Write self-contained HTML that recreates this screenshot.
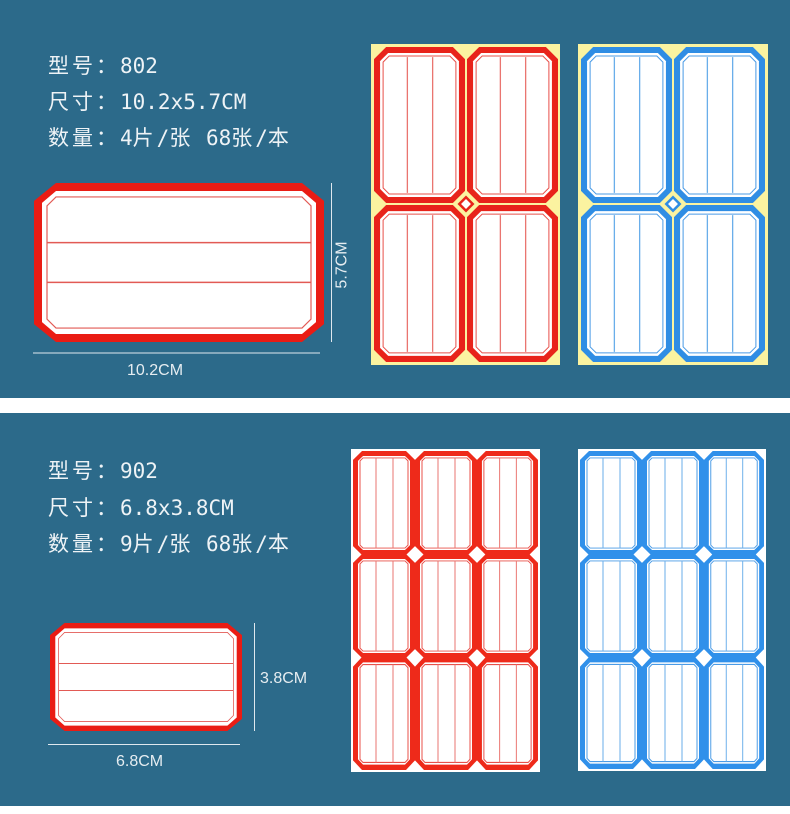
<!DOCTYPE html>
<html><head><meta charset="utf-8"><style>
body{margin:0;width:790px;height:814px;background:#fff;position:relative;overflow:hidden}
.p{position:absolute;left:0;width:790px;background:#2c6a8a}
.t{position:absolute;left:48px;font:21px "DejaVu Sans Mono","Noto Sans CJK SC",monospace;color:#eef3f6;white-space:pre;line-height:24px}
.c{font-family:"Noto Sans CJK SC",sans-serif;letter-spacing:3px}
.d{position:absolute;font:16px "Liberation Sans",sans-serif;color:#e6edf1;white-space:nowrap}
svg{position:absolute;left:0;top:0}
</style></head><body>
<div class="p" style="top:0;height:398px"></div>
<div class="p" style="top:413px;height:393px"></div>
<div class="t" style="top:53px"><span class="c">型号：</span>802</div>
<div class="t" style="top:89px"><span class="c">尺寸：</span>10.2x5.7CM</div>
<div class="t" style="top:125px"><span class="c">数量：</span>4<span class="c">片</span>/<span class="c">张</span> 68<span class="c">张</span>/<span class="c">本</span></div>
<div class="t" style="top:458px"><span class="c">型号：</span>902</div>
<div class="t" style="top:495px"><span class="c">尺寸：</span>6.8x3.8CM</div>
<div class="t" style="top:531px"><span class="c">数量：</span>9<span class="c">片</span>/<span class="c">张</span> 68<span class="c">张</span>/<span class="c">本</span></div>
<div class="d" style="left:127px;top:362px">10.2CM</div>
<div class="d" style="left:319px;top:256px;transform:rotate(-90deg);transform-origin:center">5.7CM</div>
<div class="d" style="left:260px;top:670px">3.8CM</div>
<div class="d" style="left:116px;top:753px">6.8CM</div>
<svg width="790" height="814" viewBox="0 0 790 814">
<defs>
<symbol id="vr" viewBox="0 0 90 155" preserveAspectRatio="none">
<polygon points="12,0 78,0 90,12 90,143 78,155 12,155 0,143 0,12" fill="#e8231a"/>
<polygon points="14,6 76,6 84,14 84,141 76,149 14,149 6,141 6,14" fill="#fff"/>
<polygon points="15,9 75,9 81,15 81,140 75,146 15,146 9,140 9,15" fill="none" stroke="#e8504a" stroke-width="1"/>
<line x1="33" y1="10" x2="33" y2="145" stroke="#ea7570" stroke-width="1.3"/>
<line x1="58" y1="10" x2="58" y2="145" stroke="#ea7570" stroke-width="1.3"/>
</symbol>
<symbol id="vr2" viewBox="0 0 62 105" preserveAspectRatio="none">
<polygon points="9,0 53,0 62,9 62,96 53,105 9,105 0,96 0,9" fill="#ee2a1a"/>
<polygon points="10,5 52,5 57,10 57,95 52,100 10,100 5,95 5,10" fill="#fff"/>
<polygon points="10,7 52,7 55,10 55,95 52,98 10,98 7,95 7,10" fill="none" stroke="#e8504a" stroke-width="1"/>
<line x1="23" y1="7" x2="23" y2="98" stroke="#ea7570" stroke-width="1"/>
<line x1="40" y1="7" x2="40" y2="98" stroke="#ea7570" stroke-width="1"/>
</symbol>
<symbol id="vb" viewBox="0 0 90 155" preserveAspectRatio="none">
<polygon points="12,0 78,0 90,12 90,143 78,155 12,155 0,143 0,12" fill="#2f8de4"/>
<polygon points="14,6 76,6 84,14 84,141 76,149 14,149 6,141 6,14" fill="#fff"/>
<polygon points="15,9 75,9 81,15 81,140 75,146 15,146 9,140 9,15" fill="none" stroke="#4a9be6" stroke-width="1"/>
<line x1="33" y1="10" x2="33" y2="145" stroke="#6aaeea" stroke-width="1.3"/>
<line x1="58" y1="10" x2="58" y2="145" stroke="#6aaeea" stroke-width="1.3"/>
</symbol>
<symbol id="vb2" viewBox="0 0 62 105" preserveAspectRatio="none">
<polygon points="9,0 53,0 62,9 62,96 53,105 9,105 0,96 0,9" fill="#3090ea"/>
<polygon points="10,5 52,5 57,10 57,95 52,100 10,100 5,95 5,10" fill="#fff"/>
<polygon points="10,7 52,7 55,10 55,95 52,98 10,98 7,95 7,10" fill="none" stroke="#4a9be6" stroke-width="1"/>
<line x1="23" y1="7" x2="23" y2="98" stroke="#6aaeea" stroke-width="1"/>
<line x1="40" y1="7" x2="40" y2="98" stroke="#6aaeea" stroke-width="1"/>
</symbol>
<symbol id="hr" viewBox="0 0 290 160" preserveAspectRatio="none">
<polygon points="22,0 268,0 290,18 290,142 268,160 22,160 0,142 0,18" fill="#ea1c14"/>
<polygon points="22,8 268,8 282,20 282,140 268,152 22,152 8,140 8,20" fill="#fff"/>
<polygon points="22,14 268,14 277,23 277,137 268,146 22,146 13,137 13,23" fill="none" stroke="#e25a55" stroke-width="1.2"/>
<line x1="13" y1="60" x2="277" y2="60" stroke="#e25a55" stroke-width="1.5"/>
<line x1="13" y1="100" x2="277" y2="100" stroke="#e25a55" stroke-width="1.5"/>
</symbol>
</defs>
<use href="#hr" x="34" y="183" width="290" height="159"/>
<line x1="33" y1="353" x2="320" y2="353" stroke="#dfe8ee" stroke-width="1"/>
<line x1="331.5" y1="183" x2="331.5" y2="342" stroke="#dfe8ee" stroke-width="1"/>
<use href="#hr" x="50" y="623" width="192" height="108"/>
<line x1="48" y1="744.5" x2="240" y2="744.5" stroke="#dfe8ee" stroke-width="1"/>
<line x1="254.5" y1="623" x2="254.5" y2="731" stroke="#dfe8ee" stroke-width="1"/>
<rect x="371" y="44" width="189" height="321" fill="#fbf3a0"/>
<use href="#vr" x="374" y="47" width="91" height="156"/>
<use href="#vr" x="467" y="47" width="91" height="156"/>
<use href="#vr" x="374" y="205" width="91" height="157"/>
<use href="#vr" x="467" y="205" width="91" height="157"/>
<rect x="460" y="198" width="12" height="12" fill="#e8231a" transform="rotate(45 466 204)"/>
<rect x="462.5" y="200.5" width="7" height="7" fill="#fff" transform="rotate(45 466 204)"/>
<rect x="578" y="44" width="190" height="321" fill="#fbf3a0"/>
<use href="#vb" x="581" y="47" width="91" height="156"/>
<use href="#vb" x="674" y="47" width="91" height="156"/>
<use href="#vb" x="581" y="205" width="91" height="157"/>
<use href="#vb" x="674" y="205" width="91" height="157"/>
<rect x="667" y="198" width="12" height="12" fill="#2f8de4" transform="rotate(45 673 204)"/>
<rect x="669.5" y="200.5" width="7" height="7" fill="#fff" transform="rotate(45 673 204)"/>
<rect x="351" y="449" width="189" height="323" fill="#fff"/>
<use href="#vr2" x="353" y="451" width="62" height="104"/>
<use href="#vr2" x="415" y="451" width="62" height="104"/>
<use href="#vr2" x="477" y="451" width="61" height="104"/>
<use href="#vr2" x="353" y="554" width="62" height="104"/>
<use href="#vr2" x="415" y="554" width="62" height="104"/>
<use href="#vr2" x="477" y="554" width="61" height="104"/>
<use href="#vr2" x="353" y="657" width="62" height="113"/>
<use href="#vr2" x="415" y="657" width="62" height="113"/>
<use href="#vr2" x="477" y="657" width="61" height="113"/>
<rect x="578" y="449" width="188" height="322" fill="#fff"/>
<use href="#vb2" x="580" y="451" width="62" height="104"/>
<use href="#vb2" x="642" y="451" width="62" height="104"/>
<use href="#vb2" x="704" y="451" width="60" height="104"/>
<use href="#vb2" x="580" y="554" width="62" height="104"/>
<use href="#vb2" x="642" y="554" width="62" height="104"/>
<use href="#vb2" x="704" y="554" width="60" height="104"/>
<use href="#vb2" x="580" y="657" width="62" height="112"/>
<use href="#vb2" x="642" y="657" width="62" height="112"/>
<use href="#vb2" x="704" y="657" width="60" height="112"/>
</svg>
</body></html>
